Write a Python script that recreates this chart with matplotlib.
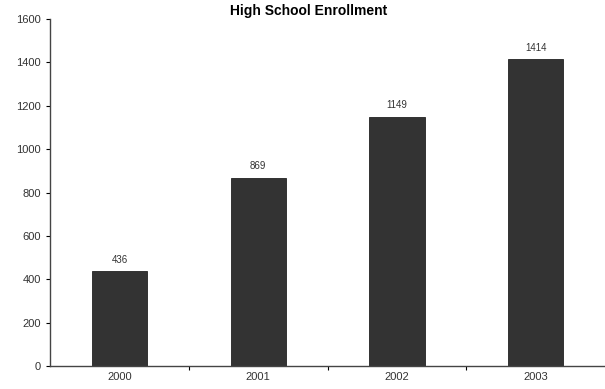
import matplotlib.pyplot as plt

years = ['2000', '2001', '2002', '2003']
enrollment = [436, 869, 1149, 1414]
y_ticks = [0, 200, 400, 600, 800, 1000, 1200, 1400, 1600]

plt.rcParams['font.family'] = ['Liberation Sans', 'DejaVu Sans']

fig = plt.figure(figsize=(6.05, 3.89), dpi=100)
ax = fig.add_axes([0.083, 0.059, 0.917, 0.892])

x = list(range(len(years)))
bars = ax.bar(x, enrollment, width=0.4, color='#333333', edgecolor='#222222', linewidth=0.6)
for xi, v in zip(x, enrollment):
    ax.text(xi, v + 30, str(v), ha='center', va='bottom', fontsize=7, color='#333333')

ax.set_xlim(-0.5, len(years) - 0.5)
ax.set_ylim(0, 1600)
ax.set_yticks(y_ticks)
ax.tick_params(axis='y', labelsize=8, labelcolor='#333333', length=3, width=0.8, direction='out')

# category labels sit at bar centres, tick marks between categories
ax.set_xticks(x)
ax.set_xticklabels(years)
ax.tick_params(axis='x', which='major', length=0, labelsize=8, labelcolor='#333333', pad=4)
ax.set_xticks([i + 0.5 for i in x[:-1]], minor=True)
ax.tick_params(axis='x', which='minor', length=3, width=0.8, direction='out')

for side in ('top', 'right'):
    ax.spines[side].set_visible(False)
for side in ('left', 'bottom'):
    ax.spines[side].set_color('#444444')
    ax.spines[side].set_linewidth(1.0)

fig.text(0.51, 0.972, 'High School Enrollment', ha='center', va='center',
         fontsize=10, fontweight='bold')

fig.savefig('out.png', dpi=100)
